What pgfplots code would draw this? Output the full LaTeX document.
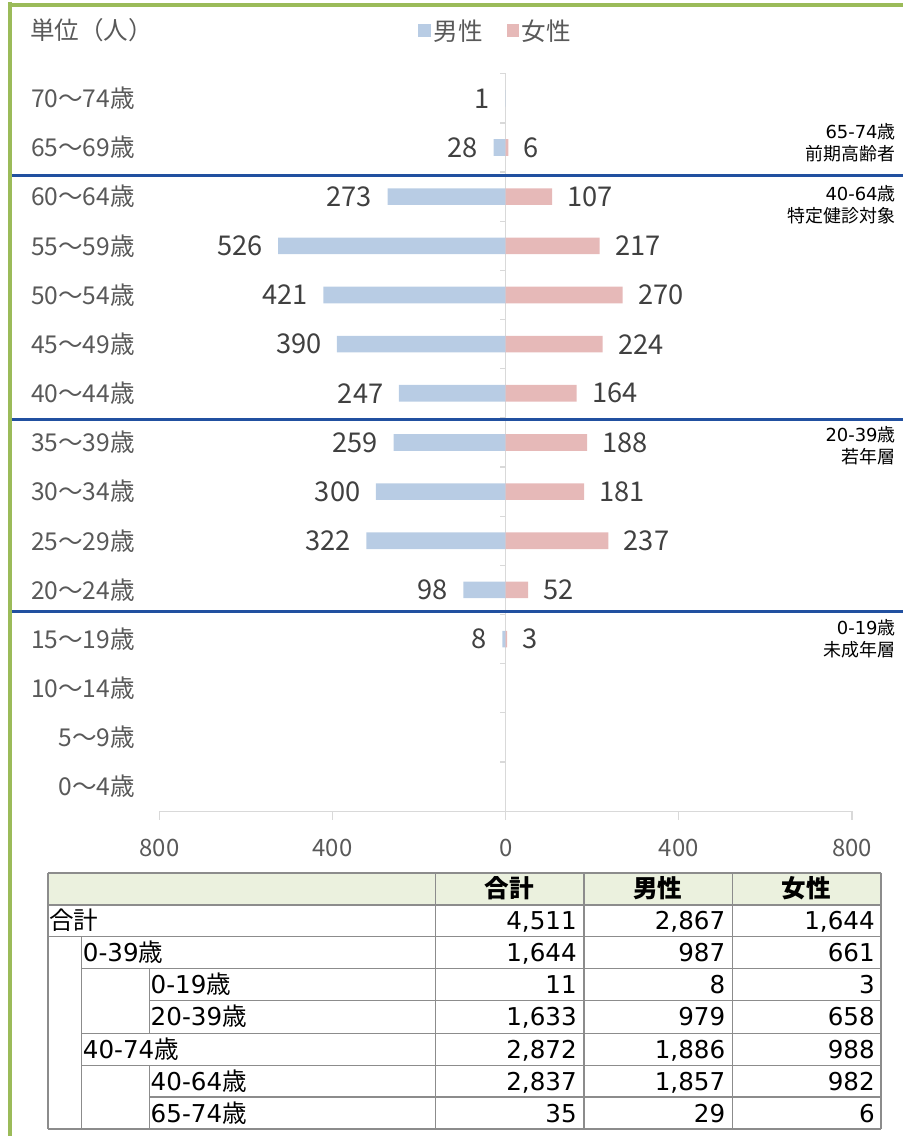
\documentclass[border=0pt]{standalone}
\usepackage{fontspec}
\setmainfont{Noto Sans CJK JP}
\newfontfamily\dv{DejaVu Sans}
\usepackage{pgfplots}
\pgfplotsset{compat=1.18}
\definecolor{maleblue}{HTML}{B8CCE4}
\definecolor{femalepink}{HTML}{E6B9B8}
\definecolor{axgray}{HTML}{D9D9D9}
\definecolor{lblgray}{HTML}{595959}
\definecolor{datgray}{HTML}{404040}
\definecolor{sepblue}{HTML}{2150A0}
\definecolor{framegreen}{HTML}{9BBB59}
\definecolor{headfill}{HTML}{EBF1DE}
\definecolor{tabline}{HTML}{8C8C8C}
\begin{document}
\begin{tikzpicture}
\begin{scope}[x=0.75pt,y=-0.75pt]
\useasboundingbox (0,0) rectangle (906,1138);
\end{scope}
\begin{axis}[
  at={(120pt,-609pt)}, anchor=south west,
  scale only axis, width=521.25pt, height=555pt,
  xmin=-800, xmax=800, ymin=-0.5, ymax=14.5,
  clip=false,
  xbar, bar width=12.5pt, bar shift=0pt,
  axis x line*=bottom, axis y line*=left,
  x axis line style={draw=axgray, line width=0.9pt, -},
  y axis line style={draw=none},
  tick align=outside, major tick length=6.5pt,
  xtick={-800,-400,0,400,800}, xticklabels={800,400,0,400,800},
  xtick style={draw=axgray, line width=0.9pt},
  ytick={0,...,14},
  yticklabels={0～4歳,5～9歳,10～14歳,15～19歳,20～24歳,25～29歳,30～34歳,35～39歳,40～44歳,45～49歳,50～54歳,55～59歳,60～64歳,65～69歳,70～74歳},
  ytick style={draw=none},
  ticklabel style={font=\fontsize{18}{21}\selectfont, text=lblgray},
  yticklabel style={xshift=-8.5pt, font=\fontsize{18.5}{21}\selectfont},
  xticklabel style={yshift=-11pt},
  /pgf/number format/assume math mode=true,
  point meta=explicit,
  nodes near coords,
  nodes near coords style={font=\fontsize{20.5}{24}\selectfont, text=datgray, inner sep=0pt},
  legend style={at={(0.486,1.058)}, anchor=center, draw=none, fill=none,
    legend columns=2, font=\fontsize{18.5}{21}\selectfont, text=lblgray,
    /tikz/every even column/.append style={column sep=16pt}},
  legend image code/.code={\fill[#1] (0pt,-4.5pt) rectangle (9.5pt,5pt);},
]
\draw[axgray, line width=0.9pt] (axis cs:0,-0.5) -- (axis cs:0,14.5);
\pgfplotsinvokeforeach{-0.5,0.5,...,14.5}{
  \draw[axgray, line width=0.9pt] (axis cs:0,#1) -- (axis cs:-13,#1);
}
\addplot[fill=maleblue, draw=none,
  every node near coord/.append style={anchor=east, xshift=-11.5pt}]
  coordinates {
  (-8,3) [8] (-98,4) [98] (-322,5) [322] (-300,6) [300] (-259,7) [259]
  (-247,8) [247] (-390,9) [390] (-421,10) [421] (-526,11) [526]
  (-273,12) [273] (-28,13) [28] (-1,14) [1]
};
\addlegendentry{男性}
\addplot[fill=femalepink, draw=none,
  every node near coord/.append style={anchor=west, xshift=11.5pt}]
  coordinates {
  (3,3) [3] (52,4) [52] (237,5) [237] (181,6) [181] (188,7) [188]
  (164,8) [164] (224,9) [224] (270,10) [270] (217,11) [217]
  (107,12) [107] (6,13) [6]
};
\addlegendentry{女性}
\end{axis}
\begin{scope}[x=0.75pt,y=-0.75pt]
% frame
\draw[framegreen, line width=3pt] (10,0) -- (10,1138);
\draw[framegreen, line width=3pt] (8,3) -- (906,3);
% unit label
\node[anchor=mid west, font=\fontsize{18.5}{21}\selectfont, text=lblgray, inner sep=0pt] at (30,34) {単位（人）};
% separator lines
\foreach \yy in {174,419,612} \draw[sepblue, line width=2.2pt] (12,\yy) -- (906,\yy);
% annotations
\begin{scope}[every node/.style={anchor=base east, font=\fontsize{13.5}{16}\selectfont, inner sep=0pt}]
\node at (899,137) {{\dv 65-74}歳};
\node at (899,159) {前期高齢者};
\node at (899,199) {{\dv 40-64}歳};
\node at (899,221) {特定健診対象};
\node at (899,441) {{\dv 20-39}歳};
\node at (899,463) {若年層};
\node at (899,635) {{\dv 0-19}歳};
\node at (899,657) {未成年層};
\end{scope}
% table
\fill[headfill] (48,874) rectangle (884,906);
\begin{scope}[tabline, line width=1.1pt]
\draw (48,874) -- (884,874);
\draw (48,906) -- (884,906);
\draw (48,938) -- (884,938);
\draw (82,970) -- (884,970);
\draw (150,1002) -- (884,1002);
\draw (82,1035) -- (884,1035);
\draw (82,1067) -- (884,1067);
\draw (150,1099) -- (884,1099);
\draw (48,1131) -- (884,1131);
\draw (48,874) -- (48,1131);
\draw (82,938) -- (82,1131);
\draw (150,970) -- (150,1035);
\draw (150,1067) -- (150,1131);
\draw (437,874) -- (437,1131);
\draw (586,874) -- (586,1131);
\draw (735,874) -- (735,1131);
\draw (884,874) -- (884,1131);
\end{scope}
\begin{scope}[every node/.style={font=\fontsize{18.5}{21}\selectfont, inner sep=0pt}]
\node[anchor=base, font=\fontsize{18.5}{21}\selectfont\bfseries] at (511,899) {合計};
\node[anchor=base, font=\fontsize{18.5}{21}\selectfont\bfseries] at (660,899) {男性};
\node[anchor=base, font=\fontsize{18.5}{21}\selectfont\bfseries] at (809,899) {女性};
\node[anchor=base west] at (49,931) {合計};
\node[anchor=base west] at (83,963) {{\dv 0-39}歳};
\node[anchor=base west] at (151,995) {{\dv 0-19}歳};
\node[anchor=base west] at (151,1027) {{\dv 20-39}歳};
\node[anchor=base west] at (83,1060) {{\dv 40-74}歳};
\node[anchor=base west] at (151,1092) {{\dv 40-64}歳};
\node[anchor=base west] at (151,1124) {{\dv 65-74}歳};
\foreach \yy/\a/\b/\c in {931/4{,}511/2{,}867/1{,}644, 963/1{,}644/987/661, 995/11/8/3, 1027/1{,}633/979/658, 1060/2{,}872/1{,}886/988, 1092/2{,}837/1{,}857/982, 1124/35/29/6}{
  \node[anchor=base east] at (579,\yy) {\dv\a};
  \node[anchor=base east] at (728,\yy) {\dv\b};
  \node[anchor=base east] at (878,\yy) {\dv\c};
}
\end{scope}
\end{scope}
\end{tikzpicture}
\end{document}
